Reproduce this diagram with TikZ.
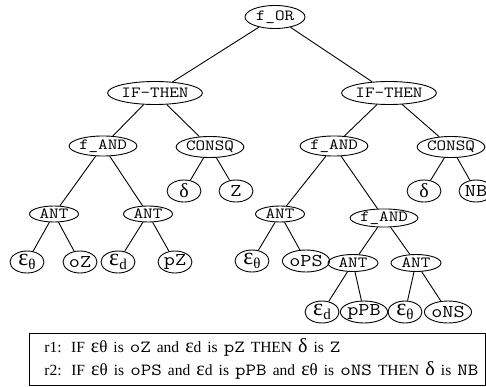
\documentclass[tikz,border=0pt]{standalone}
\usepackage{fontspec}
\setmainfont{Liberation Serif}
\newfontfamily\courfont[FakeStretch=1.2]{Latin Modern Mono}
\usetikzlibrary{shapes.geometric}

\newcommand{\esub}[1]{{\fontsize{24}{24}\selectfont ε}\raisebox{-3.5pt}{\fontsize{15}{15}\selectfont #1}}
\newcommand{\tm}[1]{{\courfont\fontsize{17}{17}\selectfont #1}}
\newcommand{\gk}[1]{{\fontsize{20}{20}\selectfont #1}}
\newcommand{\eth}{\gk{ε}{\fontsize{17}{17}\selectfont θ}}

\begin{document}
\begin{tikzpicture}[x=1pt, y=-1pt, line width=0.9pt,
	op/.style 2 args={ellipse, draw, inner sep=0pt, minimum width=#1pt,
		minimum height=#2pt, font=\courfont\fontsize{15.5}{15.5}\selectfont},
	leaf/.style={ellipse, draw, inner sep=0pt, minimum width=34pt,
		minimum height=22pt, font=\fontsize{18}{18}\selectfont},
	rule/.style={anchor=base west, inner sep=0pt,
		font=\fontsize{15.5}{15.5}\selectfont}]
	\useasboundingbox (0,0) rectangle (486,387);

	\node [op={60}{23}] (or) at (275,17) {f\_OR};

	\node [op={77}{23}] (it1) at (155,93) {IF-THEN};
	\node [op={77}{23}] (it2) at (389,93) {IF-THEN};

	\node [op={59}{20}] (and1) at (103,146) {f\_AND};
	\node [op={59}{21}] (cq1) at (210,147) {CONSQ};
	\node [op={59}{20}] (and2) at (334,146) {f\_AND};
	\node [op={59}{21}] (cq2) at (451,147) {CONSQ};

	\node [leaf] (d1) at (184,191) {\gk{δ}};
	\node [leaf] (z1) at (236,191) {\courfont Z};
	\node [leaf] (d2) at (424,191) {\gk{δ}};
	\node [leaf] (nb) at (476,191) {\courfont NB};

	\node [op={49}{16}] (ant1) at (54,214) {ANT};
	\node [op={49}{16}] (ant2) at (148,214) {ANT};
	\node [op={49}{16}] (ant3) at (280,214) {ANT};
	\node [op={58}{18}] (and3) at (384,218) {f\_AND};

	\node [leaf] (e1) at (27,262) {\esub{θ}};
	\node [leaf] (oz) at (80,262) {\courfont oZ};
	\node [leaf] (e2) at (118,262) {\esub{d}};
	\node [leaf] (pz) at (175,262) {\courfont pZ};
	\node [leaf] (e3) at (252,261) {\esub{θ}};
	\node [leaf] (ops) at (306,261) {\courfont oPS};

	\node [op={50}{17}] (ant4) at (353,263) {ANT};
	\node [op={50}{17}] (ant5) at (416,263) {ANT};

	\node [leaf] (e4) at (322,312) {\esub{d}};
	\node [leaf] (ppb) at (364,312) {\courfont pPB};
	\node [leaf] (e5) at (405,312) {\esub{θ}};
	\node [leaf] (ons) at (448,312) {\courfont oNS};

	\draw (or) -- (it1);
	\draw (or) -- (it2);
	\draw (it1) -- (and1);
	\draw (it1) -- (cq1);
	\draw (it2) -- (and2);
	\draw (it2) -- (cq2);
	\draw (cq1) -- (d1);
	\draw (cq1) -- (z1);
	\draw (cq2) -- (d2);
	\draw (cq2) -- (nb);
	\draw (and1) -- (ant1);
	\draw (and1) -- (ant2);
	\draw (and2) -- (ant3);
	\draw (and2) -- (and3);
	\draw (ant1) -- (e1);
	\draw (ant1) -- (oz);
	\draw (ant2) -- (e2);
	\draw (ant2) -- (pz);
	\draw (ant3) -- (e3);
	\draw (ant3) -- (ops);
	\draw (and3) -- (ant4);
	\draw (and3) -- (ant5);
	\draw (ant4) -- (e4);
	\draw (ant4) -- (ppb);
	\draw (ant5) -- (e5);
	\draw (ant5) -- (ons);

	\node [draw, line width=0.8pt, minimum width=456pt, minimum height=52pt,
		inner sep=0pt] (rules) at (257,359) {};
	\node [rule] (r1) at (44,352) {\hbox to 296pt{r1: IF \eth{} is \tm{oZ}
		and \gk{ε}d is \tm{pZ} THEN \gk{δ} is \tm{Z}}};
	\node [rule] (r2) at (44,375) {\hbox to 434pt{r2: IF \eth{} is \tm{oPS}
		and \gk{ε}d is \tm{pPB} and \eth{} is \tm{oNS} THEN \gk{δ} is \tm{NB}}};
\end{tikzpicture}
\end{document}
